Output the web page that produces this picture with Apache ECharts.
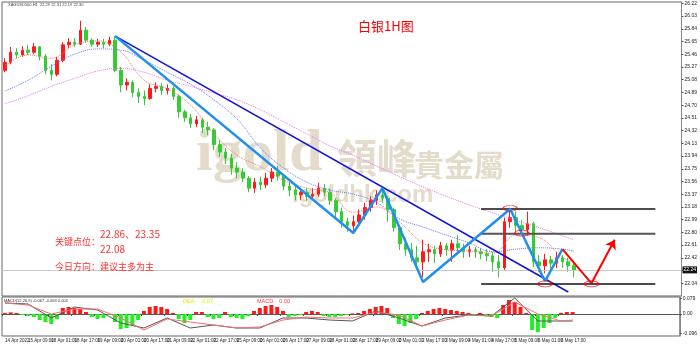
<!DOCTYPE html>
<html>
<head>
<meta charset="utf-8">
<script src="https://cdn.jsdelivr.net/npm/echarts@6/dist/echarts.min.js"></script>
<style>
  html, body { margin: 0; padding: 0; background: #fff; }
  #chart { width: 700px; height: 345px; }
</style>
</head>
<body>
<div id="chart"></div>
<script>
const timeLabels = ['14 Apr 2022', '15 Apr 09:00', '18 Apr 01:00', '18 Apr 17:00', '19 Apr 09:00',
  '20 Apr 01:00', '20 Apr 17:00', '21 Apr 09:00', '22 Apr 01:00', '22 Apr 17:00', '25 Apr 09:00',
  '26 Apr 01:00', '26 Apr 17:00', '27 Apr 09:00', '28 Apr 01:00', '28 Apr 17:00', '29 Apr 09:00',
  '2 May 01:00', '2 May 17:00', '3 May 09:00', '4 May 01:00', '4 May 17:00', '5 May 09:00',
  '6 May 01:00', '6 May 17:00'];
const slotCount = 117; // includes the empty space to the right of the last candle

const firstOpen = 25.22;
const closes = [
  25.34, 25.49, 25.45, 25.52, 25.49, 25.57, 25.43, 25.22, 25.16, 25.37,
  25.60, 25.64, 25.61, 25.82, 25.67, 25.61, 25.64, 25.61, 25.67, 25.22,
  25.00, 25.04, 24.89, 24.83, 24.80, 24.95, 24.98, 24.92, 24.95, 24.83,
  24.60, 24.51, 24.42, 24.48, 24.37, 24.33, 24.11, 24.00, 23.91, 23.76,
  23.70, 23.61, 23.46, 23.55, 23.51, 23.61, 23.70, 23.64, 23.49, 23.43,
  23.36, 23.40, 23.34, 23.37, 23.46, 23.40, 23.28, 23.11, 22.96, 22.90,
  22.96, 23.06, 23.17, 23.28, 23.36, 23.31, 23.14, 22.87, 22.63, 22.54,
  22.42, 22.36, 22.51, 22.54, 22.48, 22.60, 22.54, 22.63, 22.57, 22.51,
  22.54, 22.51, 22.48, 22.45, 22.36, 22.27, 22.96, 23.02, 22.90, 22.84,
  22.93, 22.36, 22.30, 22.39, 22.34, 22.42, 22.36, 22.30, 22.24
];
const highs = [
  25.40, 25.57, 25.55, 25.58, 25.60, 25.63, 25.58, 25.46, 25.31, 25.42,
  25.64, 25.70, 25.70, 25.96, 25.87, 25.70, 25.69, 25.69, 25.72, 25.73,
  25.27, 25.10, 25.07, 24.95, 24.92, 25.01, 25.04, 25.03, 25.01, 24.98,
  24.86, 24.63, 24.57, 24.54, 24.51, 24.45, 24.36, 24.18, 24.06, 23.97,
  23.85, 23.76, 23.64, 23.61, 23.63, 23.69, 23.76, 23.79, 23.67, 23.55,
  23.49, 23.46, 23.46, 23.46, 23.54, 23.52, 23.46, 23.31, 23.17, 23.02,
  23.05, 23.14, 23.24, 23.34, 23.43, 23.48, 23.34, 23.17, 22.90, 22.72,
  22.64, 22.60, 22.69, 22.63, 22.60, 22.66, 22.64, 22.69, 22.76, 22.63,
  22.60, 22.58, 22.57, 22.55, 22.51, 22.46, 23.02, 23.17, 23.11, 22.99,
  23.11, 22.96, 22.46, 22.48, 22.45, 22.51, 22.46, 22.42, 22.36
];
const lows = [
  25.19, 25.31, 25.40, 25.42, 25.45, 25.46, 25.37, 25.16, 25.07, 25.13,
  25.34, 25.55, 25.57, 25.60, 25.63, 25.57, 25.57, 25.55, 25.58, 25.19,
  24.89, 24.92, 24.82, 24.73, 24.70, 24.78, 24.89, 24.85, 24.86, 24.78,
  24.51, 24.45, 24.36, 24.37, 24.28, 24.25, 24.03, 23.93, 23.82, 23.66,
  23.61, 23.55, 23.40, 23.39, 23.43, 23.46, 23.55, 23.57, 23.43, 23.34,
  23.28, 23.28, 23.27, 23.28, 23.33, 23.34, 23.21, 23.02, 22.87, 22.81,
  22.78, 22.90, 22.99, 23.11, 23.21, 23.24, 22.96, 22.81, 22.54, 22.45,
  22.36, 22.27, 22.13, 22.36, 22.34, 22.43, 22.45, 22.36, 22.48, 22.42,
  22.43, 22.42, 22.40, 22.37, 22.21, 22.13, 22.24, 22.87, 22.81, 22.78,
  22.75, 22.28, 22.21, 22.19, 22.24, 22.27, 22.27, 22.21, 22.13
];

// moving averages, read every 4th candle
const maIndex = [0, 4, 8, 12, 16, 20, 24, 28, 32, 36, 40, 44, 48, 52, 56, 60, 64, 68, 72, 76, 80, 84, 88, 92, 96, 98];
const maFast = [25.28, 25.45, 25.40, 25.60, 25.66, 25.49, 25.07, 24.94, 24.70, 24.27, 23.95, 23.78, 23.58,
  23.46, 23.39, 23.10, 23.18, 22.95, 22.64, 22.54, 22.52, 22.49, 22.76, 22.72, 22.43, 22.36];
const maMid = [24.91, 25.07, 25.28, 25.46, 25.54, 25.52, 25.37, 25.19, 25.01, 24.78, 24.49, 24.06, 23.76,
  23.55, 23.43, 23.37, 23.25, 23.00, 22.88, 22.76, 22.64, 22.51, 22.55, 22.57, 22.55, 22.52];
const maSlow = [24.72, 24.84, 24.98, 25.10, 25.21, 25.25, 25.19, 25.07, 24.98, 24.88, 24.78, 24.63, 24.45,
  24.27, 24.09, 23.95, 23.79, 23.63, 23.48, 23.34, 23.21, 23.09, 22.98, 22.87, 22.75, 22.69];

// MACD panel
const macdHist = [
  0.005, 0.008, 0.005, -0.005, -0.01, -0.015, -0.03, -0.04, -0.05, -0.025,
  0.03, 0.035, 0.03, 0.025, 0.01, -0.015, -0.025, -0.02, -0.005, -0.04,
  -0.075, -0.07, -0.055, -0.03, 0.015, 0.035, 0.04, 0.035, 0.025, 0.005,
  -0.025, -0.045, -0.03, 0.01, 0.01, -0.015, -0.025, -0.02, 0.01, -0.015,
  -0.02, -0.025, -0.01, 0.015, 0.03, 0.04, 0.045, 0.035, 0.015, -0.015,
  -0.01, -0.005, 0.01, 0.015, 0.01, -0.01, -0.015, -0.015, -0.01, -0.005,
  0.003, 0.005, 0.015, 0.025, 0.035, 0.04, 0.03, -0.02, -0.05, -0.06,
  -0.045, -0.025, 0.005, 0.015, 0.025, 0.03, 0.025, 0.02, 0.015, 0.01,
  0.005, -0.005, 0.005, -0.005, -0.015, -0.02, 0.045, 0.07, 0.06, 0.035,
  0.005, -0.08, -0.09, -0.07, -0.045, -0.02, 0.005, 0.01, 0.01
];
const macdLine = [0.055, 0.05, -0.02, 0.035, 0.02, -0.045, -0.07, -0.02, -0.07, -0.055, -0.07, -0.07, -0.02,
  -0.02, -0.03, -0.035, 0.015, -0.02, -0.06, -0.02, -0.005, -0.01, 0.08, -0.035, -0.035, -0.035];
const macdSignal = [0.055, 0.045, 0, 0.025, 0.025, -0.02, -0.08, -0.025, -0.04, -0.055, -0.07, -0.065, -0.03,
  -0.015, -0.02, -0.02, 0.01, -0.005, -0.06, -0.03, -0.005, -0.01, 0.06, 0, -0.035, -0.03];
const macdTicks = [0.079, 0, -0.096];

// hand drawn analysis: [candle index, price]
const trendLine = [[19, 25.73], [97, 21.91]];
const zigzag = [[19, 25.73], [60, 22.79], [65, 23.46], [72, 22.06], [87, 23.15], [93, 22.07], [96, 22.55]];
const projection = [[96, 22.55], [101, 22.04]];
const projectionArrow = [[101, 22.04], [105, 22.69]];
const levelLines = [23.15, 22.78, 22.03];
const levelSpan = [82, 112];
const circles = [[87, 23.16], [89, 22.79], [93, 22.03], [101, 22.03]];

const categories = [];
for (let i = 0; i < slotCount; i++) categories.push(i % 4 === 0 && timeLabels[i / 4] ? timeLabels[i / 4] : '');

const candles = closes.map((c, i) => [i === 0 ? firstOpen : closes[i - 1], c, lows[i], highs[i]]);
const lastClose = closes[closes.length - 1];
const pairs = (idx, vals) => idx.map((x, k) => [x, vals[k]]);

const chart = echarts.init(document.getElementById('chart'), null, {renderer: 'canvas'});

const tiny = {fontFamily: 'Liberation Sans', color: '#222'};
const wm = '#e4dccb';

const option = {
  animation: false,
  textStyle: {fontFamily: 'Liberation Sans'},
  grid: [
    {left: 2, right: 16, top: 2, height: 294, show: true, borderColor: '#666', borderWidth: 1, backgroundColor: 'transparent'},
    {left: 2, right: 16, top: 297, height: 39, show: true, borderColor: '#666', borderWidth: 1, backgroundColor: 'transparent'}
  ],
  xAxis: [
    {type: 'category', gridIndex: 0, data: categories, boundaryGap: true,
      axisLine: {show: false}, axisTick: {show: false}, axisLabel: {show: false}},
    {type: 'category', gridIndex: 1, data: categories, boundaryGap: true,
      axisLine: {lineStyle: {color: '#555'}},
      axisTick: {show: true, length: 2, interval: (i, v) => v !== '', lineStyle: {color: '#555'}},
      axisLabel: Object.assign({interval: 0, fontSize: 4.5, align: 'left', margin: 2}, tiny)}
  ],
  yAxis: [
    {type: 'value', gridIndex: 0, position: 'right', min: 21.85, max: 26.24, interval: 0.19,
      axisLine: {show: true, lineStyle: {color: '#888'}},
      axisTick: {show: true, length: 2, lineStyle: {color: '#555'}},
      splitLine: {show: false},
      axisLabel: Object.assign({fontSize: 5, margin: 3, showMinLabel: false, showMaxLabel: false,
        formatter: v => v.toFixed(2)}, tiny)},
    {type: 'value', gridIndex: 1, position: 'right', min: -0.11, max: 0.085,
      axisLine: {show: true, lineStyle: {color: '#888'}},
      axisTick: {show: true, length: 2, customValues: macdTicks, lineStyle: {color: '#555'}},
      splitLine: {show: false},
      axisLabel: Object.assign({fontSize: 5, margin: 3, customValues: macdTicks,
        formatter: v => v === 0 ? '0.00' : String(v)}, tiny)}
  ],
  graphic: [
    {type: 'text', left: 196, top: 124, silent: true, z: 0,
      style: {text: 'igold', fill: wm, font: 'bold 60px "Liberation Serif"'}},
    {type: 'text', left: 337, top: 138, silent: true, z: 0,
      style: {text: '領峰', fill: wm, font: 'bold 40px "Noto Sans CJK TC"'}},
    {type: 'text', left: 414, top: 150, silent: true, z: 0,
      style: {text: '貴金屬', fill: wm, font: 'bold 30px "Noto Sans CJK TC"'}},
    {type: 'text', left: 292, top: 183, silent: true, z: 0,
      style: {text: 'igoldhk.com', fill: wm, font: 'bold 24px "Liberation Sans"'}},
    {type: 'text', left: 358, top: 20, z: 100,
      style: {text: '白银1H图', fill: '#ff0000', font: '13px "Noto Sans CJK SC"'}},
    {type: 'text', left: 55, top: 237, z: 100,
      style: {text: '关键点位：', fill: '#ff3030', font: '9px "Noto Sans CJK SC"'}},
    {type: 'text', left: 100, top: 229, z: 100,
      style: {text: '22.86、23.35', fill: '#ff3030', font: '10px "Noto Sans CJK SC"'}},
    {type: 'text', left: 100, top: 244, z: 100,
      style: {text: '22.08', fill: '#ff3030', font: '10px "Noto Sans CJK SC"'}},
    {type: 'text', left: 55, top: 262, z: 100,
      style: {text: '今日方向：建议主多为主', fill: '#ff3030', font: '9px "Noto Sans CJK SC"'}},
    {type: 'text', left: 8, top: 3, z: 100,
      style: {text: 'XAGUSD500,H1  22.29 22.31 22.19 22.30', fill: '#444', font: '4px "Liberation Sans"'}},
    {type: 'text', left: 4, top: 299, z: 100,
      style: {text: 'MACD(12,26,9) -0.067 -0.069 0.004', fill: '#333', font: '4px "Liberation Sans"'}},
    {type: 'text', left: 183, top: 298, z: 100,
      style: {text: 'DEA:   -0.07', fill: '#e8e800', font: '5.5px "Liberation Sans"'}},
    {type: 'text', left: 257, top: 298, z: 100,
      style: {text: 'MACD:   0.00', fill: '#ff4040', font: '5.5px "Liberation Sans"'}}
  ],
  series: [
    {type: 'candlestick', name: 'XAGUSD', xAxisIndex: 0, yAxisIndex: 0, data: candles, barWidth: 3,
      itemStyle: {color: '#ff1a1a', color0: '#33cc33', borderColor: '#ff1a1a', borderColor0: '#33cc33', borderWidth: 1},
      markLine: {silent: true, symbol: 'none',
        lineStyle: {color: '#c8c8c8', width: 1, type: 'solid'},
        label: {position: 'end', distance: 1, fontSize: 5, color: '#fff', backgroundColor: '#111', padding: [1, 1],
          formatter: p => p.value.toFixed(2)},
        data: [{yAxis: lastClose}]}},
    {type: 'line', name: 'MA fast', data: pairs(maIndex, maFast), smooth: 0.4, symbol: 'none',
      lineStyle: {color: '#f07070', width: 1, type: 'dotted'}},
    {type: 'line', name: 'MA mid', data: pairs(maIndex, maMid), smooth: 0.4, symbol: 'none',
      lineStyle: {color: '#7070ff', width: 1, type: 'dotted'}},
    {type: 'line', name: 'MA slow', data: pairs(maIndex, maSlow), smooth: 0.4, symbol: 'none',
      lineStyle: {color: '#ee70ee', width: 1, type: 'dotted'}},
    {type: 'line', name: 'trend', data: trendLine, symbol: 'none', z: 5,
      lineStyle: {color: '#1010dd', width: 1.5}},
    {type: 'line', name: 'zigzag', data: zigzag, symbol: 'none', z: 6,
      lineStyle: {color: '#2090f0', width: 2.5}},
    ...levelLines.map((lv, k) => ({type: 'line', name: 'level' + k, symbol: 'none', z: 5,
      data: levelSpan.map(x => [x, lv]),
      lineStyle: {color: k === 1 ? '#555' : '#111', width: k === 1 ? 2 : 1.5}})),
    {type: 'line', name: 'projection', data: projection, symbol: 'none', z: 7,
      lineStyle: {color: '#ff0000', width: 2},
      markLine: {silent: true, symbol: ['none', 'arrow'], symbolSize: 9,
        lineStyle: {color: '#ff0000', width: 2, type: 'solid'}, label: {show: false},
        data: [[{coord: projectionArrow[0]}, {coord: projectionArrow[1]}]]}},
    {type: 'scatter', name: 'marks', data: circles, symbol: 'circle', symbolSize: [14, 6], z: 8,
      itemStyle: {color: 'rgba(0,0,0,0)', borderColor: '#ff0000', borderWidth: 1}},
    {type: 'bar', name: 'MACD hist', xAxisIndex: 1, yAxisIndex: 1, data: macdHist, barWidth: 4,
      itemStyle: {color: p => p.value >= 0 ? '#ff1a1a' : '#22ee22'}},
    {type: 'line', name: 'MACD', xAxisIndex: 1, yAxisIndex: 1, data: pairs(maIndex, macdLine),
      symbol: 'none', lineStyle: {color: '#555', width: 1}},
    {type: 'line', name: 'Signal', xAxisIndex: 1, yAxisIndex: 1, data: pairs(maIndex, macdSignal),
      symbol: 'none', lineStyle: {color: '#f07070', width: 1}}
  ]
};

chart.setOption(option);
</script>
</body>
</html>
